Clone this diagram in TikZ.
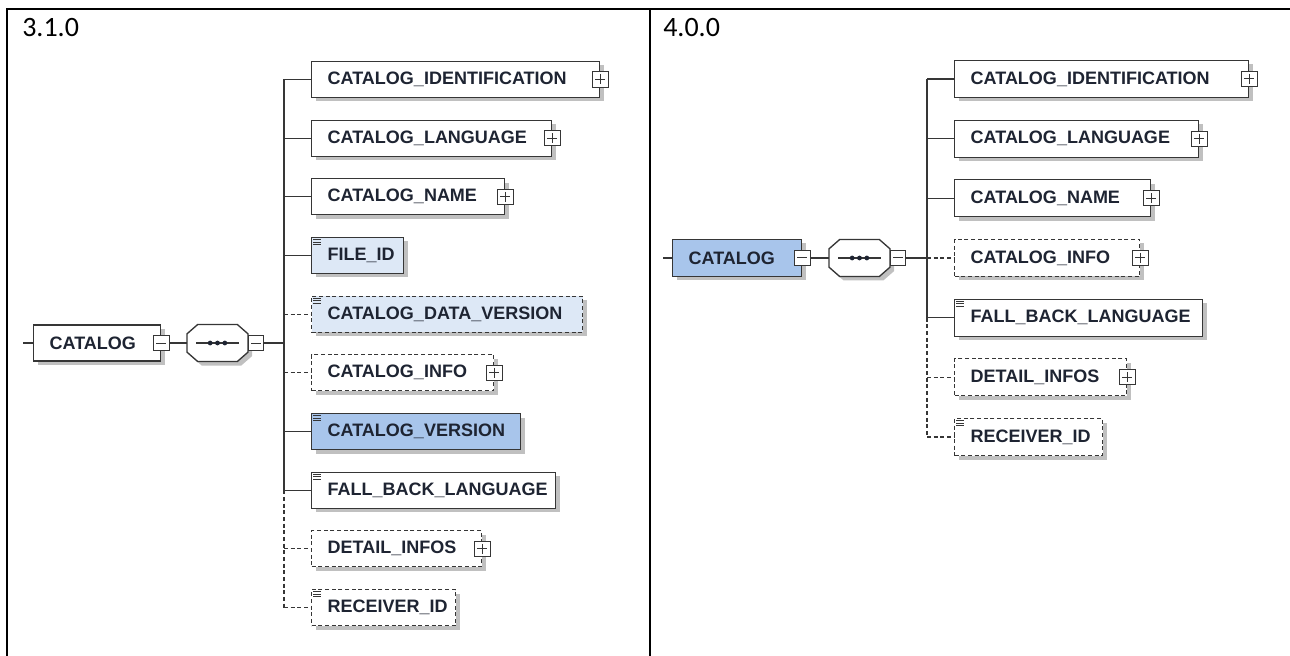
\documentclass[tikz,border=0pt]{standalone}
\usepackage{fontspec}
\setmainfont{Carlito}
\newfontfamily\elemfont{Liberation Sans}
\usetikzlibrary{shadows}
\definecolor{bord}{HTML}{363636}
\definecolor{ink}{HTML}{1E2432}
\definecolor{lblue}{HTML}{DDE8F6}
\definecolor{mblue}{HTML}{A8C5EB}

\begin{document}
\begin{tikzpicture}[x=0.75pt,y=-0.75pt,
   shade box/.style={drop shadow={shadow xshift=3pt,shadow yshift=-3pt,fill=black!45,opacity=.55}},
   elem/.style={draw=bord,fill=white,line width=1pt,anchor=west,
     minimum height=27pt,inner xsep=12pt,inner ysep=0pt,text width=#1,
     align=left,text=ink,font=\elemfont\bfseries\fontsize{13.5}{15}\selectfont,shade box},
   opt/.style={dash pattern=on 3pt off 2pt},
   expbox/.style={draw=bord,fill=white,line width=0.75pt,minimum size=11.5pt,inner sep=0pt,
     path picture={\draw[bord,line width=0.75pt]
       ([yshift=-2pt]path picture bounding box.north) -- ([yshift=2pt]path picture bounding box.south)
       ([xshift=2pt]path picture bounding box.west) -- ([xshift=-2pt]path picture bounding box.east);}},
   colbox/.style={draw=bord,fill=white,line width=0.75pt,minimum size=11.5pt,inner sep=0pt,
     path picture={\draw[bord,line width=0.75pt]
       ([xshift=2pt]path picture bounding box.west) -- ([xshift=-2pt]path picture bounding box.east);}},
   seqbox/.style={minimum width=45.75pt,minimum height=27.75pt,inner sep=0pt,outer sep=0pt},
   link/.style={draw=bord,line width=1pt},
   version/.style={anchor=base west,inner sep=0pt,font=\fontsize{21}{24}\selectfont}]
   \def\leaficon#1{\foreach \d in {2,4,6}
      \draw[bord,line width=.7pt] ([shift={(1.5pt,-\d pt)}]#1.north west) -- ++(6pt,0pt);}
   \def\seqshape#1{\draw[bord,fill=white,line width=1pt,shade box]
        ([xshift=8pt]#1.north west) -- ([xshift=-8pt]#1.north east)
        -- ([yshift=-7pt]#1.north east) -- ([yshift=7pt]#1.south east)
        -- ([xshift=-8pt]#1.south east) -- ([xshift=8pt]#1.south west)
        -- ([yshift=7pt]#1.south west) -- ([yshift=-7pt]#1.north west) -- cycle;
      \draw[bord,line width=.8pt] ([xshift=-16pt]#1.center) -- ([xshift=16pt]#1.center);
      \foreach \d in {-5.5,0,5.5} \fill[ink] ([xshift=\d pt]#1.center) circle (1.8pt);}
   \useasboundingbox (0,0) rectangle (1290,656);
   % table
   \draw[line width=1.5pt] (7,656) -- (7,9.5) -- (1290,9.5);
   \draw[line width=1.5pt] (650,9.5) -- (650,656);
   \begin{scope}
    \node[version] (v1) at (22,37) {3.1.0};
    \coordinate (in1) at (23,343);
    \coordinate (tr1) at (284,343);
    \node[elem=71.25pt] (cat1) at (33,343) {CATALOG};
    \node[colbox] (cc1) at (cat1.east) {};
    \node[seqbox] (seq1) at (217.5,343) {};
    \seqshape{seq1}
    \node[colbox,anchor=west] (sc1) at (seq1.east) {};
    \node[elem=192pt] (ci1) at (311,79.5) {CATALOG\_IDENTIFICATION};
    \node[elem=156pt] (cl1) at (311,138.2) {CATALOG\_LANGUAGE};
    \node[elem=120.75pt] (cn1) at (311,196.8) {CATALOG\_NAME};
    \node[elem=45pt,fill=lblue] (fid1) at (311,255.5) {FILE\_ID};
    \node[elem=179.25pt,opt,fill=lblue] (cdv1) at (311,314.2) {CATALOG\_DATA\_VERSION};
    \node[elem=112.5pt,opt] (cinfo1) at (311,372.8) {CATALOG\_INFO};
    \node[elem=132.75pt,fill=mblue] (cv1) at (311,431.5) {CATALOG\_VERSION};
    \node[elem=159pt] (fbl1) at (311,490.2) {FALL\_BACK\_LANGUAGE};
    \node[elem=103.5pt,opt] (di1) at (311,548.8) {DETAIL\_INFOS};
    \node[elem=84pt,opt] (rid1) at (311,607.5) {RECEIVER\_ID};
    \foreach \n in {ci1,cl1,cn1,cinfo1,di1} \node[expbox] (x\n) at (\n.east) {};
    \foreach \n in {fid1,cdv1,cv1,fbl1,rid1} {\leaficon{\n}}
    \draw[link] (in1) -- (cat1.west);
    \draw[link] (cc1.east) -- (seq1.west);
    \draw[link] (sc1.east) -- (tr1);
    \draw[link] (ci1.west -| tr1) -- (fbl1.west -| tr1);
    \draw[link,opt] (fbl1.west -| tr1) -- (rid1.west -| tr1);
    \foreach \n in {ci1,cl1,cn1,fid1,cv1,fbl1} \draw[link] (\n.west -| tr1) -- (\n.west);
    \foreach \n in {cdv1,cinfo1,di1,rid1} \draw[link,opt] (\n.west -| tr1) -- (\n.west);
   \end{scope}
   \begin{scope}[elem/.append style={minimum height=27.75pt}]
    \node[version] (v2) at (663,37) {4.0.0};
    \coordinate (in2) at (663,258);
    \coordinate (tr2) at (927,258);
    \node[elem=72.75pt,fill=mblue] (cat2) at (672,258) {CATALOG};
    \node[colbox] (cc2) at (cat2.east) {};
    \node[seqbox] (seq2) at (859.5,258) {};
    \seqshape{seq2}
    \node[colbox,anchor=west] (sc2) at (seq2.east) {};
    \node[elem=196.5pt] (ci2) at (954,79) {CATALOG\_IDENTIFICATION};
    \node[elem=159pt] (cl2) at (954,138.7) {CATALOG\_LANGUAGE};
    \node[elem=123pt] (cn2) at (954,198.3) {CATALOG\_NAME};
    \node[elem=114.75pt,opt] (cinfo2) at (954,258) {CATALOG\_INFO};
    \node[elem=162pt] (fbl2) at (954,317.7) {FALL\_BACK\_LANGUAGE};
    \node[elem=105pt,opt] (di2) at (954,377.3) {DETAIL\_INFOS};
    \node[elem=87pt,opt] (rid2) at (954,437) {RECEIVER\_ID};
    \foreach \n in {ci2,cl2,cn2,cinfo2,di2} \node[expbox] (x\n) at (\n.east) {};
    \foreach \n in {fbl2,rid2} {\leaficon{\n}}
    \draw[link] (in2) -- (cat2.west);
    \draw[link] (cc2.east) -- (seq2.west);
    \draw[link] (sc2.east) -- (tr2);
    \draw[link] (ci2.west -| tr2) -- (fbl2.west -| tr2);
    \draw[link,opt] (fbl2.west -| tr2) -- (rid2.west -| tr2);
    \foreach \n in {ci2,cl2,cn2,fbl2} \draw[link] (\n.west -| tr2) -- (\n.west);
    \foreach \n in {cinfo2,di2,rid2} \draw[link,opt] (\n.west -| tr2) -- (\n.west);
   \end{scope}
\end{tikzpicture}
\end{document}
